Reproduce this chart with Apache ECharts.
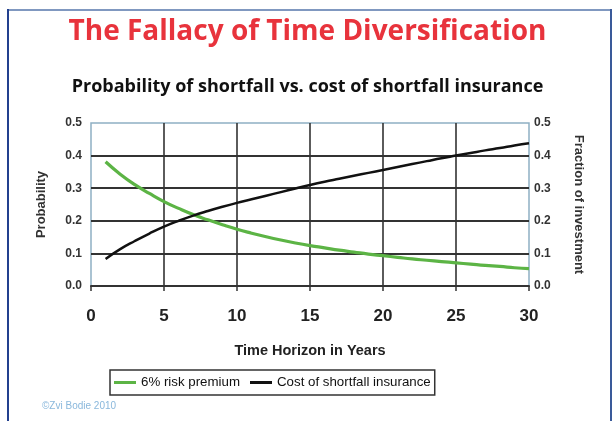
<!DOCTYPE html>
<html>
<head>
<meta charset="utf-8">
<script src="https://cdn.jsdelivr.net/npm/echarts@6/dist/echarts.min.js"></script>
<style>
html,body{margin:0;padding:0;background:#fff;}
#chart{width:615px;height:421px;}
</style>
</head>
<body>
<div id="chart"></div>
<script>
var years = [1,2,3,4,5,6,7,8,9,10,11,12,13,14,15,16,17,18,19,20,21,22,23,24,25,26,27,28,29,30];
var riskPremium6 = [0.381,0.343,0.311,0.284,0.259,0.238,0.219,0.203,0.188,0.174,0.162,0.151,0.141,0.132,0.124,0.117,0.110,0.104,0.098,0.093,0.088,0.083,0.079,0.075,0.071,0.067,0.063,0.060,0.056,0.053];
var insuranceCost = [0.083,0.113,0.138,0.161,0.182,0.200,0.216,0.230,0.243,0.255,0.266,0.277,0.288,0.299,0.310,0.320,0.329,0.338,0.347,0.356,0.365,0.374,0.383,0.392,0.400,0.408,0.416,0.423,0.431,0.438];
var seriesNames = ['6% risk premium','Cost of shortfall insurance'];
var titleText = 'The Fallacy of Time Diversification';
var subtitleText = 'Probability of shortfall vs. cost of shortfall insurance';
var xName = 'Time Horizon in Years';
var yLeftName = 'Probability';
var yRightName = 'Fraction of investment';
var credit = '\u00A9Zvi Bodie 2010';

function pairs(xs, ys){ return xs.map(function(x,i){ return [x, ys[i]]; }); }

var chart = echarts.init(document.getElementById('chart'), null, {renderer:'canvas'});
var axisFont = 'Liberation Sans, Arial, sans-serif';
var option = {
  animation:false,
  backgroundColor:'#fff',
  title:[
    {text:titleText, left:'center', top:13, textStyle:{fontFamily:'Open Sans', fontWeight:'bold', fontSize:28, color:'#e8333c'}},
    {text:subtitleText, left:'center', top:73, textStyle:{fontFamily:'Open Sans', fontWeight:'bold', fontSize:18, color:'#111'}}
  ],
  grid:{left:91, right:86, top:123, bottom:135, show:true, borderColor:'#8fb0c4', borderWidth:1.5, backgroundColor:'#fff'},
  legend:{
    left:110, top:370, padding:[6,4], itemGap:10, itemWidth:22, itemHeight:3, icon:'rect',
    borderColor:'#333', borderWidth:1.5,
    textStyle:{fontFamily:axisFont, fontSize:13.3, color:'#111'},
    data:seriesNames
  },
  xAxis:{
    type:'value', min:0, max:30, interval:5,
    name:xName, nameLocation:'middle', nameGap:57,
    nameTextStyle:{fontFamily:axisFont, fontWeight:'bold', fontSize:14.5, color:'#222'},
    axisLine:{show:true, lineStyle:{color:'#333', width:2}},
    axisTick:{show:true, length:5, lineStyle:{color:'#333', width:1.5}},
    axisLabel:{fontFamily:axisFont, fontWeight:'bold', fontSize:17, color:'#222', margin:22},
    splitLine:{show:true, showMinLine:false, showMaxLine:false, lineStyle:{color:'#333', width:1.6}}
  },
  yAxis:[
    {
      type:'value', min:0, max:0.5, interval:0.1, position:'left',
      name:yLeftName, nameLocation:'middle', nameGap:43, nameRotate:90,
      nameTextStyle:{fontFamily:axisFont, fontWeight:'bold', fontSize:13, color:'#333'},
      axisLine:{show:false}, axisTick:{show:false},
      axisLabel:{fontFamily:axisFont, fontWeight:'bold', fontSize:12, color:'#333', margin:9, formatter:function(v){return v.toFixed(1);}},
      splitLine:{show:true, showMinLine:false, showMaxLine:false, lineStyle:{color:'#333', width:1.8}}
    },
    {
      type:'value', min:0, max:0.5, interval:0.1, position:'right',
      name:yRightName, nameLocation:'middle', nameGap:43, nameRotate:-90,
      nameTextStyle:{fontFamily:axisFont, fontWeight:'bold', fontSize:13, color:'#333'},
      axisLine:{show:false}, axisTick:{show:false},
      axisLabel:{fontFamily:axisFont, fontWeight:'bold', fontSize:12, color:'#333', margin:5, formatter:function(v){return v.toFixed(1);}},
      splitLine:{show:false}
    }
  ],
  series:[
    {name:seriesNames[0], type:'line', yAxisIndex:0, symbol:'none', smooth:true, data:pairs(years, riskPremium6), lineStyle:{color:'#5cb445', width:3.2}, itemStyle:{color:'#5cb445'}, z:3},
    {name:seriesNames[1], type:'line', yAxisIndex:1, symbol:'none', smooth:true, data:pairs(years, insuranceCost), lineStyle:{color:'#111', width:2.5}, itemStyle:{color:'#111'}, z:4}
  ],
  graphic:[
    {type:'rect', shape:{x:8, y:9, width:603, height:2}, style:{fill:'#8098c0'}, silent:true},
    {type:'rect', shape:{x:7, y:9, width:2, height:420}, style:{fill:'#23408e'}, silent:true},
    {type:'rect', shape:{x:610, y:9, width:2, height:420}, style:{fill:'#3a5a9a'}, silent:true},
    {type:'text', left:42, top:401, style:{text:credit, fontFamily:axisFont, fontSize:10, fill:'#8ab8dc'}, silent:true}
  ]
};
chart.setOption(option);
</script>
</body>
</html>
